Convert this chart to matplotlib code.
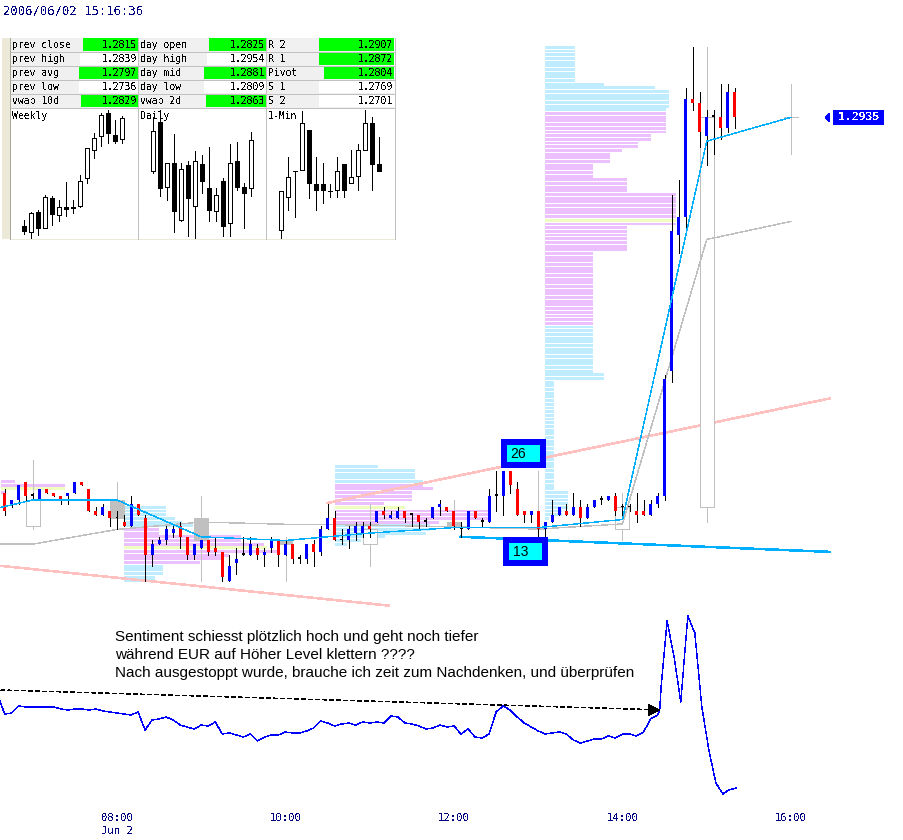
import matplotlib
matplotlib.use('Agg')
import matplotlib.pyplot as plt
import numpy as np
from matplotlib.patches import Rectangle, Polygon

plt.rcParams['lines.antialiased'] = False
plt.rcParams['patch.antialiased'] = False
plt.rcParams['text.antialiased'] = False
plt.rcParams['font.family'] = ['DejaVu Sans Mono']

# 5 min bars from 06:40, pips above 1.2800
bar_open = [33,30,31,36,32,31,34,33,32,32,33,36,34,28,27,28,26,25,24,30,26,16,19,20,22,24,21,16,18,20,18,17,9,14,16,16,18,16,18,20,16,19,15,15,19,17,
            23,26,20,20,22,22,24,25,28,26,26,28,27,27,25,26,29,29,28,23,23,28,25,25,32,32,39,34,28,27,28,23,25,27,28,27,29,26,29,31,31,32,29,29,28,28,27,30,
            32,66,103,108,140,139,130,135,135,132,142]
bar_high = [34,31,35,36,33,34,34,33,32,33,36,36,34,29,30,28,28,27,32,30,27,20,21,24,24,25,21,19,20,20,21,17,16,18,21,21,19,18,21,20,20,19,16,19,20,24,
            30,28,23,24,25,25,25,28,29,28,29,28,27,27,26,29,31,29,28,25,28,28,26,34,39,39,39,36,28,28,28,25,31,29,30,33,31,30,31,32,32,33,30,30,33,31,31,33,
            65,114,118,143,154,142,137,137,144,144,143]
bar_low = [27,29,30,31,31,31,33,32,30,30,33,35,28,27,27,24,23,24,24,27,9,13,19,19,21,18,15,15,18,16,16,9,9,11,16,16,15,13,17,13,16,14,14,14,13,16,
           23,20,19,18,20,21,21,25,26,26,26,25,24,23,24,26,27,28,23,21,23,26,24,25,28,27,33,27,25,25,21,20,25,27,27,27,24,26,29,30,31,27,27,28,25,27,27,29,
           31,63,98,105,137,127,122,125,129,131,132]
bar_close = [28,31,35,32,32,34,33,32,31,33,36,35,28,27,29,26,26,24,30,27,16,19,20,23,23,21,16,19,20,17,17,10,13,15,16,19,16,17,20,16,19,15,15,19,17,23,
             26,20,20,23,24,24,23,28,27,27,28,26,27,25,25,29,30,28,24,23,28,26,25,32,32,39,35,27,27,28,23,25,27,29,27,29,26,29,31,31,32,28,29,29,27,27,30,32,
             64,104,108,140,139,131,135,135,132,142,135]

# hourly bars, drawn grey behind the 5 min ones
hour_time = [7,8,9,10,11,12,13,14,15,16]
hour_open = [24,31,26,20,19,25,23,23,29,135]
hour_high = [42,36,32,21,30,31,39,33,154,144]
hour_low = [23,23,9,9,13,23,21,20,25,125]
hour_close = [31,26,20,19,23,24,23,29,135,135]

# the two averages
avg_time = [6.62,7,8,9,10,11,12,13,14,15,16]
avg_fast = [29,31,31,21,20,22,23.5,23.5,25.7,128.5,135]
avg_slow = [19,19,23,25,24.4,24.2,23.7,23.1,24.5,101.8,106.7]

# trend lines (start hour, end hour, start pips, end pips)
pink_low = (6.62, 11.23, 13.1, 2.3)
pink_high = (10.5, 16.46, 30.2, 58.6)
cyan_low = (12.08, 16.46, 21, 16.9)

# market profiles: start hour, top level, row lengths in minutes, value area, poc
prof_start = [6.62, 8.083, 10.583, 13.083]
prof_top = [36, 29, 40, 154]
prof_len = [
    [10,46,46,4],
    [30,30,30,36,41,49,25,25,83,83,100,102,109,75,69,54,28,28,28,22,22],
    [31,57,57,57,63,63,70,55,55,55,35,50,109,109,109,74,68,68,65,36,19,9],
    [21]*10 + [42,78] + [88]*5 + [86]*7 + [75]*2 + [66]*2 + [55] + [46]*3 + [34]*4 + [58]*4 + [93]*9 + [58]*7
    + [34]*33 + [42]*2 + [6.5]*30 + [16]*5 + [12]*2 + [3],
]
prof_va_high = [36, 23, 35, 136]
prof_va_low = [33, 14, 25, 79]
prof_poc = [34, 18, 29, 107]

# lower panel, blue line
sent_idx = list(range(-1, 94)) + [93.3,93.5,94.35,95.35,96.3,97.3,98.3,99.3,100.3,101.3,102.3,103.1,104.2]
sent_val = [145,126,127,134,133,133,133,133,133,131,130,131,131,130,131,129,128,127,126,125,128,110,120,121,123,120,115,113,111,115,114,118,
            106,107,105,103,106,99,103,105,105,108,107,107,109,112,119,117,114,116,117,115,118,117,118,117,124,123,117,116,114,111,112,115,113,
            114,106,111,103,102,106,128,134,130,123,117,113,109,106,107,108,106,100,97,99,101,101,104,102,106,106,104,108,121,125,
            130,153,219,183,138,224,207,133,90,57,46,50,52]

# top left table
cells_label = [['prev close','prev high','prev avg','prev low','vwap 10d'],
               ['day open','day high','day mid','day low','vwap 2d'],
               ['R 2','R 1','Pivot','S 1','S 2']]
cells_value = [['1.2815','1.2839','1.2797','1.2736','1.2829'],
               ['1.2825','1.2954','1.2881','1.2809','1.2863'],
               ['1.2907','1.2872','1.2804','1.2769','1.2701']]
cells_green = [[1,0,1,0,1],
               [1,0,1,0,1],
               [1,1,1,0,0]]
# left edge of the value cell, varies with the label
cells_x = [[83,80,79,79,81],[209,207,204,204,206],[319,319,324,319,319]]
col_x = [11,139,267,395]

mini_names = ['Weekly','Daily','1-Min']
mini_open = [[39,21,81,32,123,71,96,96,98,183,269,311,378,312,300],
             [206,351,156,228,56,222,98,225,153,83,174,47,234,156,153],
             [27,126,204,207,328,166,166,143,147,226,168,189,269,348,226]]
mini_high = [[58,81,88,133,128,118,172,118,193,273,318,378,388,358,369],
             [368,388,230,315,230,236,265,253,277,153,183,286,293,169,321],
             [144,246,204,385,328,246,228,165,246,226,268,286,388,367,307]]
mini_low = [[16,4,13,32,43,53,68,78,96,169,245,280,290,290,290],
            [200,128,116,20,53,8,3,138,53,53,8,8,146,32,128],
            [4,86,65,207,124,86,107,125,125,125,168,146,269,146,206]]
mini_close = [[23,78,32,126,74,96,89,92,174,273,303,372,320,296,363],
              [324,152,230,83,210,122,234,173,86,131,38,228,155,137,297],
              [144,186,204,348,167,146,146,143,204,146,186,267,348,227,206]]

hour_ticks = [8,10,12,14,16]
hour_labels = ['08:00\nJun 2','10:00','12:00','14:00','16:00']
note_lines = ['Sentiment schiesst plötzlich hoch und geht noch tiefer',
              'während EUR auf Höher Level klettern ????',
              'Nach ausgestoppt wurde, brauche ich zeit zum Nachdenken, und überprüfen']

W, H = 904, 840
PX_H = 84.25   # px per hour
PX_PIP = 3.68
THIN = 0.55    # one pixel for straight lines when not antialiased
SLIM = 0.3     # same for sloped lines, they come out thicker

fig = plt.figure(figsize=(W/100, H/100), dpi=100, facecolor='white')

def price(p):
    return 1.28 + np.asarray(p, dtype=float)/10000

ax = fig.add_axes([0, 0, 1, 1], zorder=1)
ax.set_xlim(8 - 117/PX_H, 8 + (W-117)/PX_H)
ax.set_ylim(price(47.3 - (H-440)/PX_PIP), price(47.3 + 440/PX_PIP))
ax.axis('off')

# profiles
for s, top, lens, vh, vl, poc in zip(prof_start, prof_top, prof_len, prof_va_high, prof_va_low, prof_poc):
    levels = top - np.arange(len(lens))
    cols = []
    for lv in levels:
        if lv == poc:
            cols.append('#EEFFC0')
        elif vl <= lv <= vh:
            cols.append('#ECC0FF')
        else:
            cols.append('#C0ECFF')
    ax.barh(price(levels), np.array(lens)/60, left=s, height=0.00008, color=cols, linewidth=0, zorder=1)

# trend lines
ax.plot(pink_low[:2], price(pink_low[2:]), color='#FFC0C0', lw=1.1, zorder=2)
ax.plot(pink_high[:2], price(pink_high[2:]), color='#FFC0C0', lw=1.1, zorder=2)
ax.plot(cyan_low[:2], price(cyan_low[2:]), color='#00B0FF', lw=1.1, zorder=2)

# hourly candles
hw = 14/PX_H
ax.vlines(hour_time, price(hour_low), price(hour_high), color='#C0C0C0', lw=THIN, zorder=3)
for t, o, c in zip(hour_time, hour_open, hour_close):
    fc = 'white' if c >= o else '#C0C0C0'
    ax.add_patch(Rectangle((t-hw/2, price(min(o, c))), hw, abs(c-o)/10000, fc=fc, ec='#C0C0C0', lw=THIN, zorder=3))
    if o == c:
        ax.plot([t-hw/2, t+hw/2], price([o, o]), color='#C0C0C0', lw=THIN, zorder=3)

ax.plot(avg_time, price(avg_slow), color='#C0C0C0', lw=SLIM, zorder=4)

# 5 min candles
bar_time = 6 + 40/60 + np.arange(len(bar_open))*5/60
ax.vlines(bar_time, price(bar_low), price(bar_high), color='black', lw=THIN, zorder=5)
cw = 3/PX_H
for t, o, c in zip(bar_time, bar_open, bar_close):
    if c > o:
        col = '#0000FF'
    elif c < o:
        col = '#FF0000'
    else:
        col = 'black'
    bot = min(o, c)
    hgt = max(abs(c-o), 0.5)/10000
    ax.bar(t, hgt, width=cw, bottom=price(bot), color=col, linewidth=0, zorder=6)

ax.plot(avg_time, price(avg_fast), color='#00B0FF', lw=SLIM, zorder=7)

# sentiment panel, ticks are the time axis of the chart
ax2 = fig.add_axes([0, 40/H, 1, 190/H], zorder=2)
ax2.patch.set_alpha(0)
ax2.set_xlim(ax.get_xlim())
ax2.set_ylim(40, 230)
for sp in ax2.spines.values():
    sp.set_visible(False)
ax2.set_yticks([])
ax2.set_xticks(hour_ticks)
ax2.set_xticklabels(hour_labels, fontsize=7.6, color='#000080', linespacing=1.3)
ax2.tick_params(axis='x', length=0, pad=9.5)
ax2.plot(6 + 40/60 + np.array(sent_idx)*5/60, sent_val, color='#0000FF', lw=SLIM)

# everything laid out in pixels from here
ui = fig.add_axes([0, 0, 1, 1], zorder=3)
ui.set_xlim(0, W)
ui.set_ylim(H, 0)
ui.axis('off')
ui.patch.set_alpha(0)

ui.text(3, 11, '2006/06/02 15:16:36', fontsize=8.8, color='#000080', va='center')

ui.add_patch(Rectangle((2, 38), 8, 201, fc='#ECE9D8', ec='none'))
ui.add_patch(Rectangle((10, 239), 386, 1, fc='#ECE9D8', ec='none'))
ui.plot([10, 10], [38, 239], color='#ACA899', lw=THIN)
row_h = 14
for c in range(3):
    for r in range(5):
        y = 38 + r*row_h
        ui.add_patch(Rectangle((col_x[c], y), col_x[c+1]-col_x[c]-1, row_h, fc='#F0F0F0', ec='none'))
        vx = cells_x[c][r]
        vc = '#00FF00' if cells_green[c][r] else 'white'
        ui.add_patch(Rectangle((vx, y), col_x[c+1]-1-vx, row_h-1, fc=vc, ec='none'))
        ui.text(col_x[c]+1, y+6.5, cells_label[c][r], fontsize=7, va='center', color='black')
        ui.text(col_x[c+1]-2, y+6.5, cells_value[c][r], fontsize=7, va='center', ha='right', color='black')
for r in range(1, 6):
    ui.plot([11, 395], [38+r*row_h-0.5]*2, color='#C0C0C0', lw=THIN)
for x in [138, 266, 395]:
    ui.plot([x, x], [38, 239], color='#C0C0C0', lw=THIN)

# mini charts
first_slot = [(73-33)/21, (458-417)/21, (844-801)/21]
for k in range(3):
    m = fig.add_axes([col_x[k]/W, 1-239/H, 127/W, 131/H], zorder=4)
    m.patch.set_alpha(0)
    m.axis('off')
    m.set_xlim(-first_slot[k], 127/7 - first_slot[k])
    m.set_ylim(0, 394)
    xs = np.arange(len(mini_open[k]))
    m.vlines(xs, mini_low[k], mini_high[k], color='black', lw=THIN, zorder=1)
    for x, o, c in zip(xs, mini_open[k], mini_close[k]):
        fc = 'white' if c > o else 'black'
        m.add_patch(Rectangle((x-0.3, min(o, c)), 0.6, max(abs(c-o), 2), fc=fc, ec='black', lw=THIN, zorder=2))
    m.text(0.01, 0.94, mini_names[k], transform=m.transAxes, fontsize=7, va='center', color='black', zorder=3)

# current price tag
ui.add_patch(Polygon([(825, 117.5), (830, 113), (830, 122)], fc='#0000FF', ec='none'))
ui.add_patch(Rectangle((833, 110), 51, 15, fc='#0000FF', ec='none'))
ui.text(858.5, 117.5, '1.2935', fontsize=8.2, fontweight='bold', color='white', ha='center', va='center')

# marked boxes
ui.add_patch(Rectangle((504, 442), 39, 23, fc='#00FFFF', ec='#0000FF', lw=2.9))
ui.text(518, 454, '26', fontsize=10, family='Liberation Sans', ha='center', va='center', color='black', antialiased=True)
ui.add_patch(Rectangle((506, 540), 39, 23, fc='#00FFFF', ec='#0000FF', lw=2.9))
ui.text(521, 552, '13', fontsize=10, family='Liberation Sans', ha='center', va='center', color='black', antialiased=True)

# comment and arrow
for txt, y in zip(note_lines, [637, 655, 673]):
    ui.text(115, y, txt, fontsize=10.95, family='Liberation Sans', va='center', color='black', antialiased=True)
ui.plot([1, 648], [690, 709.5], color='black', lw=SLIM, linestyle=(0, (9, 9)))
ui.add_patch(Polygon([(648, 704), (660, 710), (648, 716)], fc='black', ec='none'))

fig.savefig('out.png', dpi=100)
